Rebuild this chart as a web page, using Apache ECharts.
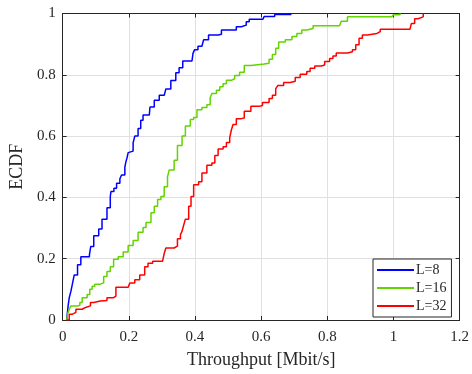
<!DOCTYPE html>
<html>
<head>
<meta charset="utf-8">
<script src="https://cdn.jsdelivr.net/npm/echarts@6/dist/echarts.min.js"></script>
<style>html,body{margin:0;padding:0;background:#fff}#c{width:472px;height:374px}</style>
</head>
<body>
<div id="c"></div>
<script>
var seriesNames = ['L=8', 'L=16', 'L=32'];
var seriesColors = ['#0000ff', '#62d400', '#ff0000'];

var blueX = [0.012,0.015,0.017,0.02,0.025,0.03,0.035,0.045,0.055,0.081,0.085,0.094,0.109,0.119,0.134,0.144,0.146,0.155,0.163,0.173,0.178,0.188,0.191,0.195,0.198,0.203,0.213,0.218,0.228,0.236,0.243,0.262,0.264,0.277,0.292,0.307,0.312,0.327,0.342,0.352,0.363,0.391,0.394,0.399,0.409,0.421,0.426,0.441,0.47,0.48,0.505,0.525,0.54,0.555,0.564,0.605,0.609,0.641,0.69];
var blueY = [0,0.03,0.05,0.073,0.094,0.12,0.147,0.18,0.206,0.213,0.24,0.275,0.297,0.329,0.366,0.403,0.419,0.43,0.446,0.461,0.473,0.499,0.515,0.531,0.546,0.551,0.578,0.6,0.625,0.652,0.669,0.669,0.695,0.717,0.733,0.738,0.754,0.781,0.807,0.823,0.845,0.847,0.87,0.882,0.893,0.898,0.914,0.93,0.932,0.946,0.946,0.957,0.962,0.973,0.981,0.981,0.99,0.997,1.0];

var greenX = [0.012,0.015,0.02,0.025,0.045,0.052,0.059,0.074,0.082,0.089,0.097,0.114,0.124,0.134,0.144,0.154,0.168,0.183,0.198,0.213,0.228,0.243,0.252,0.267,0.277,0.287,0.297,0.307,0.317,0.322,0.337,0.347,0.361,0.371,0.386,0.396,0.406,0.421,0.436,0.446,0.451,0.465,0.475,0.485,0.495,0.51,0.52,0.535,0.549,0.569,0.609,0.624,0.634,0.644,0.653,0.673,0.693,0.708,0.723,0.738,0.757,0.837,0.842,0.861,0.995,1.0,1.02];
var greenY = [0,0.02,0.035,0.046,0.048,0.057,0.073,0.083,0.1,0.11,0.117,0.121,0.142,0.158,0.174,0.198,0.206,0.222,0.243,0.259,0.286,0.302,0.318,0.35,0.371,0.393,0.403,0.435,0.467,0.489,0.521,0.569,0.6,0.633,0.654,0.661,0.686,0.693,0.702,0.725,0.739,0.75,0.761,0.771,0.782,0.787,0.798,0.808,0.83,0.835,0.838,0.851,0.866,0.887,0.907,0.914,0.925,0.935,0.946,0.951,0.96,0.962,0.975,0.989,0.989,0.996,1.0];

var redX = [0.012,0.02,0.03,0.04,0.059,0.069,0.084,0.094,0.114,0.134,0.154,0.161,0.198,0.203,0.218,0.233,0.248,0.258,0.272,0.302,0.307,0.312,0.337,0.347,0.356,0.361,0.366,0.371,0.381,0.388,0.396,0.411,0.421,0.436,0.451,0.46,0.47,0.485,0.495,0.505,0.51,0.515,0.525,0.54,0.549,0.569,0.594,0.604,0.624,0.634,0.644,0.65,0.668,0.688,0.703,0.718,0.738,0.748,0.762,0.782,0.792,0.807,0.817,0.827,0.861,0.876,0.886,0.896,0.906,0.921,0.95,0.96,1.05,1.054,1.064,1.074,1.09];
var redY = [0,0.019,0.025,0.035,0.041,0.046,0.057,0.062,0.064,0.073,0.078,0.107,0.11,0.121,0.131,0.147,0.174,0.185,0.192,0.195,0.217,0.235,0.241,0.265,0.278,0.29,0.31,0.329,0.371,0.403,0.441,0.451,0.48,0.505,0.512,0.537,0.558,0.565,0.579,0.595,0.62,0.638,0.657,0.659,0.681,0.697,0.7,0.71,0.723,0.733,0.754,0.765,0.775,0.779,0.791,0.802,0.811,0.821,0.829,0.832,0.843,0.853,0.861,0.871,0.875,0.882,0.898,0.919,0.93,0.935,0.941,0.949,0.955,0.967,0.983,0.989,1.0];

var xTickLabels = ['0','0.2','0.4','0.6','0.8','1','1.2'];
var yTickLabels = ['0','0.2','0.4','0.6','0.8','1'];

function pairs(xs, ys){ return xs.map(function(x,i){ return [x, ys[i]]; }); }
var allData = [pairs(blueX, blueY), pairs(greenX, greenY), pairs(redX, redY)];

var font = "'Liberation Serif', 'Times New Roman', serif";
var axisCol = '#262626';
var gridCol = '#e0e0e0';

function xAxisCfg(pos, main){
  return {
    type:'value', position:pos, min:0, max:1.2, interval:0.2,
    axisLine:{show:true, onZero:false, lineStyle:{color:axisCol, width:1}},
    axisTick:{show:true, inside:true, length:4, lineStyle:{color:axisCol}},
    axisLabel:{show:main, color:axisCol, fontFamily:font, fontSize:15, margin:10,
      formatter:function(v){ var i=Math.round(v/0.2); return xTickLabels[i]; }},
    splitLine:{show:main, lineStyle:{color:gridCol, width:1}},
    name: main ? 'Throughput [Mbit/s]' : '', nameLocation:'middle', nameGap:31,
    nameTextStyle:{color:axisCol, fontFamily:font, fontSize:18}
  };
}
function yAxisCfg(pos, main){
  return {
    type:'value', position:pos, min:0, max:1, interval:0.2,
    axisLine:{show:true, onZero:false, lineStyle:{color:axisCol, width:1}},
    axisTick:{show:true, inside:true, length:4, lineStyle:{color:axisCol}},
    axisLabel:{show:main, color:axisCol, fontFamily:font, fontSize:15, margin:7,
      formatter:function(v){ var i=Math.round(v/0.2); return yTickLabels[i]; }},
    splitLine:{show:main, lineStyle:{color:gridCol, width:1}},
    name: main ? 'ECDF' : '', nameLocation:'middle', nameGap:33,
    nameTextStyle:{color:axisCol, fontFamily:font, fontSize:18}
  };
}

var chart = echarts.init(document.getElementById('c'), null, {renderer:'canvas'});
chart.setOption({
  animation:false,
  backgroundColor:'#fff',
  grid:{left:58, right:10, top:13.5, bottom:48, containLabel:false},
  xAxis:[xAxisCfg('bottom', true), xAxisCfg('top', false)],
  yAxis:[yAxisCfg('left', true), yAxisCfg('right', false)],
  legend:{
    orient:'vertical', left:373, top:259,
    data:seriesNames,
    icon:'rect', itemWidth:37, itemHeight:2, itemGap:4,
    padding:[4,5,4,4],
    backgroundColor:'#fff', borderColor:axisCol, borderWidth:1, borderRadius:0,
    textStyle:{color:axisCol, fontFamily:font, fontSize:14, lineHeight:14, padding:[0,0,0,-3]}
  },
  series: seriesNames.map(function(n,i){
    return {
      name:n, type:'line', step:'end', showSymbol:false, symbol:'none',
      xAxisIndex:0, yAxisIndex:0,
      data: allData[i],
      itemStyle:{color:seriesColors[i]},
      lineStyle:{color:seriesColors[i], width:1.5},
      z: 3
    };
  })
});
</script>
</body>
</html>
